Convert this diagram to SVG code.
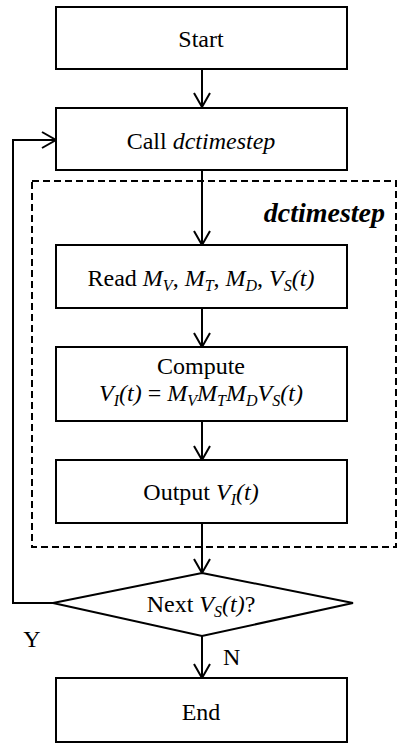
<svg xmlns="http://www.w3.org/2000/svg" width="398" height="749" viewBox="0 0 398 749" font-family="'Liberation Serif', 'DejaVu Serif', serif">
<defs>
<style>
.box{fill:#fff;stroke:#000;stroke-width:2}
.line{fill:none;stroke:#000;stroke-width:2}
.dash{fill:none;stroke:#000;stroke-width:2;stroke-dasharray:7 4}
text{font-family:'Liberation Serif', 'DejaVu Serif', serif;font-size:24px;fill:#000}
.c{text-anchor:middle}
.i{font-style:italic}
.s{font-size:16px;font-style:italic}
</style>
<marker id="arr" viewBox="0 0 18 18" refX="15" refY="9" markerWidth="18" markerHeight="18" markerUnits="userSpaceOnUse" orient="auto">
<path d="M1,1 L15,9 L1,17" fill="none" stroke="#000" stroke-width="2"/>
</marker>
</defs>
<rect width="398" height="749" fill="#fff"/>
<g id="group-dctimestep">
<rect class="dash" x="32" y="181" width="364" height="366"/>
<text x="385" y="222" class="i" font-family="'Liberation Serif', serif" style="font-weight:bold;font-size:28px;text-anchor:end">dctimestep</text>
</g>
<g id="connectors">
<line class="line" x1="202" y1="69" x2="202" y2="107" marker-end="url(#arr)"/>
<line class="line" x1="202" y1="170" x2="202" y2="245" marker-end="url(#arr)"/>
<line class="line" x1="202" y1="308" x2="202" y2="347" marker-end="url(#arr)"/>
<line class="line" x1="202" y1="421" x2="202" y2="460" marker-end="url(#arr)"/>
<line class="line" x1="202" y1="523" x2="202" y2="573" marker-end="url(#arr)"/>
<line class="line" x1="202" y1="636" x2="202" y2="678" marker-end="url(#arr)"/>
<polyline class="line" points="53,603 13,603 13,140 56,140" marker-end="url(#arr)"/>
<text x="32" y="647" class="c" font-family="'Liberation Serif', serif">Y</text>
<text x="223" y="665" font-family="'Liberation Serif', serif">N</text>
</g>
<g id="start">
<rect class="box" x="56" y="7" width="291" height="62"/>
<text x="201" y="47" class="c" font-family="'Liberation Serif', serif">Start</text>
</g>
<g id="call">
<rect class="box" x="56" y="108" width="291" height="62"/>
<text x="201" y="149" class="c" font-family="'Liberation Serif', serif">Call <tspan class="i">dctimestep</tspan></text>
</g>
<g id="read">
<rect class="box" x="56" y="245" width="291" height="63"/>
<text x="201" y="286" class="c" font-family="'Liberation Serif', serif">Read <tspan class="i">M</tspan><tspan class="s" dy="5">V</tspan><tspan dy="-5">, </tspan><tspan class="i">M</tspan><tspan class="s" dy="5">T</tspan><tspan dy="-5">, </tspan><tspan class="i">M</tspan><tspan class="s" dy="5">D</tspan><tspan dy="-5">, </tspan><tspan class="i">V</tspan><tspan class="s" dy="5">S</tspan><tspan class="i" dy="-5">(t)</tspan></text>
</g>
<g id="compute">
<rect class="box" x="56" y="347" width="291" height="74"/>
<text x="201" y="374" class="c" font-family="'Liberation Serif', serif">Compute</text>
<text x="201" y="401" class="c" font-family="'Liberation Serif', serif"><tspan class="i">V</tspan><tspan class="s" dy="5">I</tspan><tspan class="i" dy="-5">(t)</tspan> = <tspan class="i">M</tspan><tspan class="s" dy="5">V</tspan><tspan class="i" dy="-5">M</tspan><tspan class="s" dy="5">T</tspan><tspan class="i" dy="-5">M</tspan><tspan class="s" dy="5">D</tspan><tspan class="i" dy="-5">V</tspan><tspan class="s" dy="5">S</tspan><tspan class="i" dy="-5">(t)</tspan></text>
</g>
<g id="output">
<rect class="box" x="56" y="460" width="291" height="63"/>
<text x="201" y="500" class="c" font-family="'Liberation Serif', serif">Output <tspan class="i">V</tspan><tspan class="s" dy="5">I</tspan><tspan class="i" dy="-5">(t)</tspan></text>
</g>
<g id="decision">
<polygon class="box" points="202,573 353,603 202,636 53,603"/>
<text x="201" y="612" class="c" font-family="'Liberation Serif', serif">Next <tspan class="i">V</tspan><tspan class="s" dy="5">S</tspan><tspan class="i" dy="-5">(t)</tspan>?</text>
</g>
<g id="end">
<rect class="box" x="56" y="678" width="291" height="64"/>
<text x="201" y="720" class="c" font-family="'Liberation Serif', serif">End</text>
</g>
</svg>
